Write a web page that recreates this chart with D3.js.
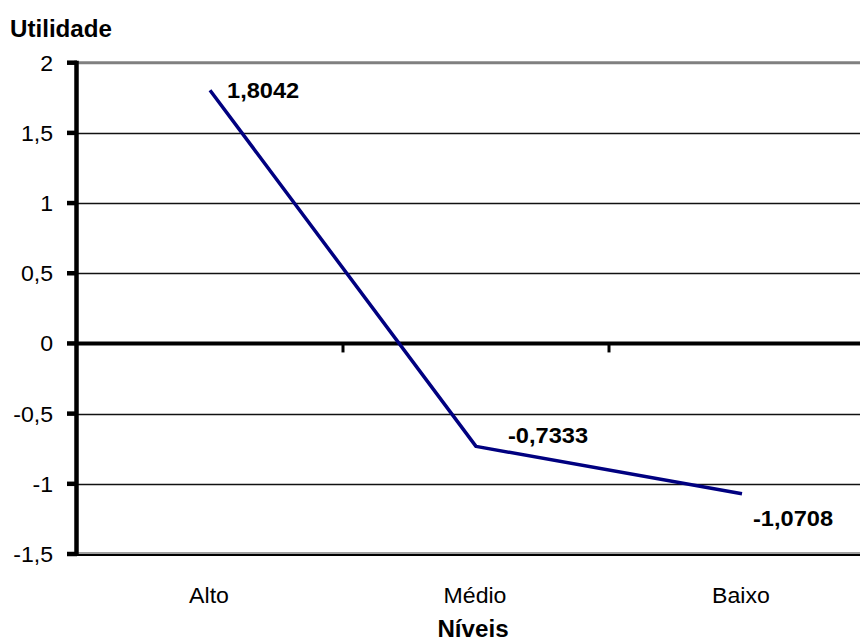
<!DOCTYPE html>
<html>
<head>
<meta charset="utf-8">
<script src="https://cdn.jsdelivr.net/npm/d3@7"></script>
<style>
  html, body { margin: 0; padding: 0; background: #fff; }
  svg { display: block; }
  text { font-family: "Liberation Sans", Arial, sans-serif; fill: #000; }
</style>
</head>
<body>
<svg id="chart" width="860" height="641"></svg>
<script>
// ---- data ----
const categories = ["Alto", "Médio", "Baixo"];
const values = [1.8042, -0.7333, -1.0708];
const valueLabels = ["1,8042", "-0,7333", "-1,0708"];
const yTicks = [-1.5, -1, -0.5, 0, 0.5, 1, 1.5, 2];
const yTickLabels = ["-1,5", "-1", "-0,5", "0", "0,5", "1", "1,5", "2"];
const yTitle = "Utilidade";
const xTitle = "Níveis";

// ---- layout ----
const W = 860, H = 641;
const plotLeft = 77, plotRight = 875, plotTop = 62.7, plotBottom = 554;
const SX = 1.05; // horizontal stretch of the original rendering

const svg = d3.select("#chart");

const x = d3.scaleBand().domain(categories).range([plotLeft, plotRight]).padding(0);
const y = d3.scaleLinear().domain([-1.5, 2]).range([plotBottom, plotTop]);

function stext(parent, px, py, txt, anchor, size, weight) {
  const g = parent.append("g").attr("transform", `translate(${px},${py}) scale(${SX},1)`);
  g.append("text")
    .attr("x", 0).attr("y", 0)
    .attr("text-anchor", anchor)
    .style("font-size", size + "px")
    .style("font-weight", weight)
    .text(txt);
  return g;
}

// gridlines
const grid = svg.append("g");
yTicks.forEach((t, i) => {
  if (t === 0) return;
  const yy = Math.round(y(t)) + 0.5;
  if (t === 2) {
    grid.append("line").attr("x1", plotLeft).attr("x2", W).attr("y1", y(t)).attr("y2", y(t))
      .attr("stroke", "#808080").attr("stroke-width", 3);
  } else if (t === -1.5) {
    grid.append("line").attr("x1", plotLeft).attr("x2", W).attr("y1", y(t) - 1).attr("y2", y(t) - 1)
      .attr("stroke", "#a0a0a0").attr("stroke-width", 2);
    grid.append("line").attr("x1", plotLeft).attr("x2", W).attr("y1", y(t) + 1).attr("y2", y(t) + 1)
      .attr("stroke", "#000").attr("stroke-width", 2);
  } else {
    grid.append("line").attr("x1", plotLeft).attr("x2", W).attr("y1", yy).attr("y2", yy)
      .attr("stroke", "#111").attr("stroke-width", 1.3);
  }
});

// zero line (category axis) with ticks at band boundaries
svg.append("line").attr("x1", plotLeft).attr("x2", W).attr("y1", y(0)).attr("y2", y(0))
  .attr("stroke", "#000").attr("stroke-width", 4);
categories.slice(1).forEach(c => {
  const xx = x(c);
  svg.append("line").attr("x1", xx).attr("x2", xx).attr("y1", y(0)).attr("y2", y(0) + 9)
    .attr("stroke", "#000").attr("stroke-width", 3);
});

// y axis
svg.append("line").attr("x1", plotLeft - 0.5).attr("x2", plotLeft - 0.5)
  .attr("y1", y(2) - 2).attr("y2", y(-1.5) + 2)
  .attr("stroke", "#000").attr("stroke-width", 4.5);
yTicks.forEach((t, i) => {
  svg.append("line").attr("x1", plotLeft - 10).attr("x2", plotLeft).attr("y1", y(t)).attr("y2", y(t))
    .attr("stroke", "#000").attr("stroke-width", 4.5);
  stext(svg, 53, y(t) + 8, yTickLabels[i], "end", 22, "normal");
});

// x category labels
categories.forEach(c => {
  stext(svg, x(c) + x.bandwidth() / 2 - 1, 603, c, "middle", 22, "normal");
});

// axis titles
stext(svg, 10, 37, yTitle, "start", 23, "bold");
stext(svg, 473, 637, xTitle, "middle", 23, "bold");

// series line
const pts = categories.map((c, i) => [x(c) + x.bandwidth() / 2, y(values[i])]);
svg.append("path")
  .attr("d", d3.line()(pts))
  .attr("fill", "none")
  .attr("stroke", "#000080")
  .attr("stroke-width", 3.5)
  .attr("stroke-linejoin", "round");

// data labels
const labelOffsets = [[17, 8], [32, -3], [11, 32]];
pts.forEach((p, i) => {
  stext(svg, p[0] + labelOffsets[i][0], p[1] + labelOffsets[i][1], valueLabels[i], "start", 22.5, "bold");
});
</script>
</body>
</html>
